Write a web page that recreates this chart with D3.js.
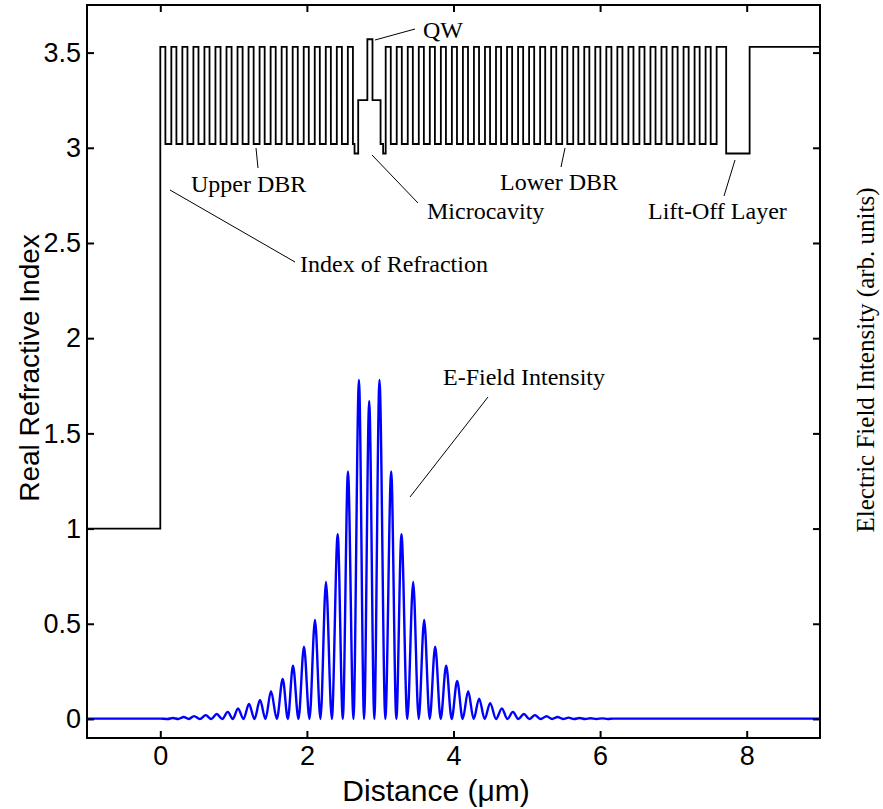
<!DOCTYPE html>
<html>
<head>
<meta charset="utf-8">
<script src="https://cdn.jsdelivr.net/npm/d3@7"></script>
<style>
  body { margin: 0; background: #fff; }
  svg { display: block; }
</style>
</head>
<body>
<div id="chart"></div>
<script>
// Chart size
const width = 883,
      height = 809;

// Layer stack of the structure: index and thickness (um) of each layer in a group,
// and how many times the group repeats (air, upper DBR, cavity, lower DBR, lift-off + substrate)
const stackIndex = [
    [1.00],
    [3.53, 3.02],
    [3.53, 3.02, 2.97, 3.25, 3.57, 3.25, 3.02, 2.97],
    [3.53, 3.02],
    [3.53, 2.97, 3.53]
];
const stackThickness = [
    [1.00],
    [0.0694, 0.0811],
    [0.0694, 0.022, 0.05, 0.125, 0.07, 0.11, 0.035, 0.035],
    [0.0694, 0.0811],
    [0.13, 0.32, 0.96]
];
const stackRepeat = [1, 17, 1, 30, 1];
const stackStart = -1;

// E-field intensity (peaks and troughs)
const efieldX = [
    -1.00, 0.00, 0.10, 0.17, 0.245, 0.32, 0.39, 0.46, 0.54, 0.62, 0.695, 0.77,
    0.845, 0.92, 0.99, 1.06, 1.135, 1.21, 1.285, 1.36, 1.435, 1.51, 1.59, 1.67,
    1.74, 1.81, 1.885, 1.96, 2.035, 2.11, 2.185, 2.26, 2.34, 2.42, 2.49, 2.56,
    2.635, 2.71, 2.78, 2.85, 2.92, 2.99, 3.07, 3.15, 3.22, 3.29, 3.37, 3.45,
    3.525, 3.60, 3.675, 3.75, 3.825, 3.90, 3.975, 4.05, 4.125, 4.20, 4.275, 4.35,
    4.425, 4.50, 4.58, 4.66, 4.735, 4.81, 4.885, 4.96, 5.035, 5.11, 5.19, 5.27,
    5.345, 5.42, 5.495, 5.57, 5.645, 5.72, 5.795, 5.87, 5.95, 6.03, 6.105, 6.18,
    6.25, 9.00
];
const efieldY = [
    0.002, 0.002, 0.000, 0.005, 0.000, 0.010, 0.000, 0.015, 0.000, 0.020, 0.000, 0.026,
    0.000, 0.037, 0.000, 0.055, 0.000, 0.079, 0.000, 0.100, 0.000, 0.146, 0.000, 0.210,
    0.000, 0.280, 0.000, 0.380, 0.000, 0.520, 0.000, 0.720, 0.000, 0.970, 0.000, 1.300,
    0.000, 1.780, 0.000, 1.670, 0.000, 1.780, 0.000, 1.300, 0.000, 0.970, 0.000, 0.720,
    0.000, 0.520, 0.000, 0.380, 0.000, 0.280, 0.000, 0.200, 0.000, 0.146, 0.000, 0.107,
    0.000, 0.083, 0.000, 0.055, 0.000, 0.037, 0.000, 0.026, 0.000, 0.020, 0.000, 0.014,
    0.000, 0.010, 0.000, 0.007, 0.000, 0.005, 0.000, 0.004, 0.000, 0.003, 0.000, 0.002,
    0.002, 0.002
];

// Axis ticks
const xTicks = [0, 2, 4, 6, 8];
const yTicks = [0, 0.5, 1, 1.5, 2, 2.5, 3, 3.5];
const yTickLabels = ["0", "0.5", "1", "1.5", "2", "2.5", "3", "3.5"];

// Annotations: text, anchor point of the text, leader line (from, to)
const noteText = ["QW", "Upper DBR", "Microcavity", "Lower DBR", "Lift-Off Layer", "Index of Refraction", "E-Field Intensity"];
const noteAt = [[423, 38], [191, 192], [427, 219], [500, 190], [648, 219], [300, 272], [443, 385]];
const noteLine = [
    [[375, 40], [415, 29]],
    [[256, 148], [258, 168]],
    [[372, 155], [418, 203]],
    [[565, 148], [561, 167]],
    [[735, 160], [724, 196]],
    [[170, 190], [295, 262]],
    [[410, 497], [488, 397]]
];

/**
 * Builds the step profile points [x, n] from the layer stack
 */
function buildProfile() {
    var pts = [];
    var pos = stackStart;
    stackIndex.forEach(function (group, g) {
        for (var r = 0; r < stackRepeat[g]; r++) {
            group.forEach(function (n, i) {
                pts.push([pos, n]);
                pos += stackThickness[g][i];
            });
        }
    });
    pts.push([pos, pts[pts.length - 1][1]]);
    return pts;
}

const svg = d3.select("#chart").append("svg")
    .attr("width", width)
    .attr("height", height);

const x = d3.scaleLinear().domain([-1, 9]).range([87, 820]);
const y = d3.scaleLinear().domain([-0.1, 3.75]).range([738, 5]);

const tickFont = "'Liberation Sans', Arial, sans-serif";
const serifFont = "'Liberation Serif', 'Times New Roman', serif";

// Clip the curves to the plot box
svg.append("clipPath").attr("id", "plotClip")
    .append("rect")
    .attr("x", x(-1)).attr("y", y(3.75))
    .attr("width", x(9) - x(-1)).attr("height", y(-0.1) - y(3.75));

const plot = svg.append("g").attr("clip-path", "url(#plotClip)");

// Refractive index profile
plot.append("path")
    .datum(buildProfile())
    .attr("fill", "none")
    .attr("stroke", "#000")
    .attr("stroke-width", 1.8)
    .attr("d", d3.line()
        .x(function (d) { return x(d[0]); })
        .y(function (d) { return y(d[1]); })
        .curve(d3.curveStepAfter));

// E-field intensity
plot.append("path")
    .datum(efieldX.map(function (v, i) { return [v, efieldY[i]]; }))
    .attr("fill", "none")
    .attr("stroke", "#0000ff")
    .attr("stroke-width", 2.4)
    .attr("d", d3.line()
        .x(function (d) { return x(d[0]); })
        .y(function (d) { return y(d[1]); })
        .curve(d3.curveMonotoneX));

// Axes (Matlab style box, ticks inside)
const tickLen = 7;
const xBottom = d3.axisBottom(x).tickValues(xTicks).tickSize(-tickLen).tickPadding(8).tickFormat(d3.format("d"));
const xTop = d3.axisTop(x).tickValues(xTicks).tickSize(-tickLen).tickFormat("");
const yLeft = d3.axisLeft(y).tickValues(yTicks).tickSize(-tickLen).tickPadding(6)
    .tickFormat(function (d, i) { return yTickLabels[i]; });
const yRight = d3.axisRight(y).tickValues(yTicks).tickSize(-tickLen).tickFormat("");

function styleAxis(g) {
    g.select(".domain").remove();
    g.selectAll(".tick line").attr("stroke", "#000").attr("stroke-width", 2);
    g.selectAll(".tick text")
        .attr("fill", "#000")
        .style("font-family", tickFont)
        .style("font-size", "27px");
}

svg.append("g").attr("transform", "translate(0," + y(-0.1) + ")").call(xBottom).call(styleAxis);
svg.append("g").attr("transform", "translate(0," + y(3.75) + ")").call(xTop).call(styleAxis);
svg.append("g").attr("transform", "translate(" + x(-1) + ",0)").call(yLeft).call(styleAxis);
svg.append("g").attr("transform", "translate(" + x(9) + ",0)").call(yRight).call(styleAxis);

svg.append("rect")
    .attr("x", x(-1)).attr("y", y(3.75))
    .attr("width", x(9) - x(-1)).attr("height", y(-0.1) - y(3.75))
    .attr("fill", "none")
    .attr("stroke", "#000")
    .attr("stroke-width", 2);

// Axis titles
svg.append("text")
    .attr("x", 436).attr("y", 801)
    .attr("text-anchor", "middle")
    .style("font-family", tickFont).style("font-size", "30px")
    .text("Distance (\u03bcm)");

svg.append("text")
    .attr("transform", "translate(39,368) rotate(-90)")
    .attr("text-anchor", "middle")
    .style("font-family", tickFont).style("font-size", "28px")
    .text("Real Refractive Index");

svg.append("text")
    .attr("transform", "translate(874,360) rotate(-90)")
    .attr("text-anchor", "middle")
    .style("font-family", serifFont).style("font-size", "25px")
    .text("Electric Field Intensity (arb. units)");

// Annotations
noteLine.forEach(function (l) {
    svg.append("line")
        .attr("x1", l[0][0]).attr("y1", l[0][1])
        .attr("x2", l[1][0]).attr("y2", l[1][1])
        .attr("stroke", "#000")
        .attr("stroke-width", 1);
});
noteText.forEach(function (t, i) {
    svg.append("text")
        .attr("x", noteAt[i][0]).attr("y", noteAt[i][1])
        .style("font-family", serifFont).style("font-size", "24px")
        .text(t);
});
</script>
</body>
</html>
